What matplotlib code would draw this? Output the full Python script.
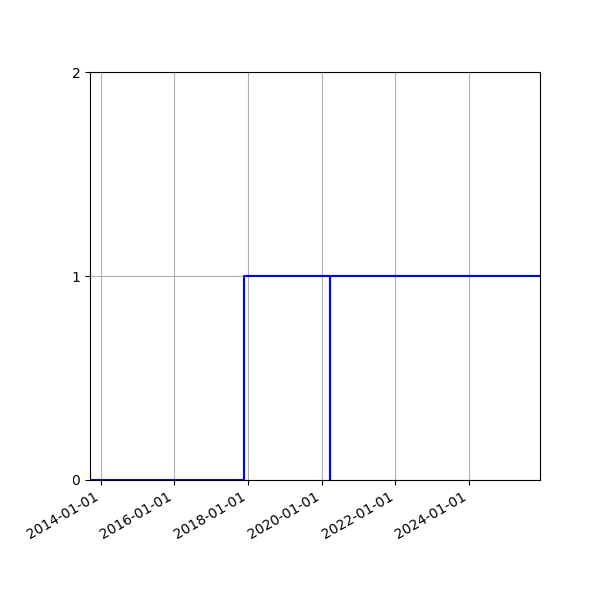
import numpy as np
import pandas as pd
import matplotlib
matplotlib.use('Agg')
import matplotlib.pyplot as plt
import matplotlib.dates as mdates

# step series
dates = pd.to_datetime(['2013-09-17', '2017-11-22', '2020-03-20', '2020-03-21', '2025-12-04'])
values = [0, 1, 0, 1, 1]
yticks = [0, 1, 2]

fig, ax = plt.subplots(figsize=(6, 6), dpi=100)
ax.plot(dates, values, drawstyle='steps-post', color='blue', lw=1.5)

ax.set_xlim(dates[0], dates[-1])
ax.set_ylim(0, 2)
ax.set_yticks(yticks)
ax.xaxis.set_major_locator(mdates.YearLocator(2))
ax.xaxis.set_major_formatter(mdates.DateFormatter('%Y-%m-%d'))
ax.grid(True)
fig.autofmt_xdate()
fig.subplots_adjust(left=0.15, right=0.9, top=0.88, bottom=0.2)

fig.savefig('out.png', dpi=100)
